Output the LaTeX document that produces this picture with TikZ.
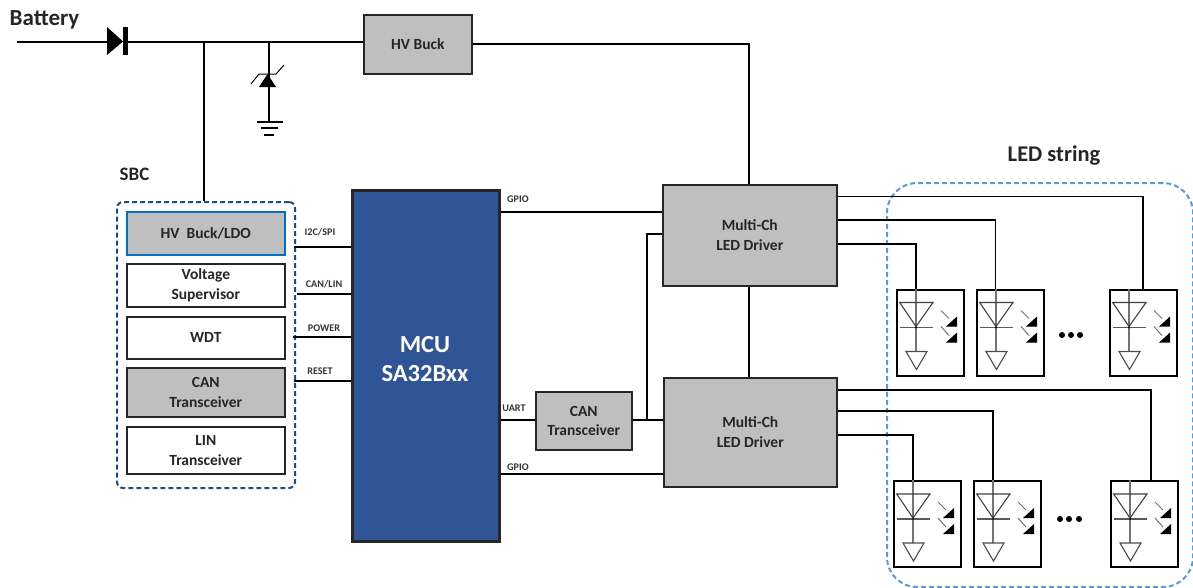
\documentclass[tikz,border=0pt]{standalone}
\usepackage{fontspec}
\setmainfont{Carlito}[Ligatures=TeX]
\definecolor{boxgray}{HTML}{BFBFBF}
\definecolor{mcublue}{HTML}{2F5597}
\definecolor{sbcblue}{HTML}{1F4E79}
\definecolor{ledblue}{HTML}{5B9BD5}
\definecolor{hvblue}{HTML}{0070C0}
\tikzset{
  x=1pt,y=-1pt,
  wire/.style={draw=black,line width=2pt},
  thinwire/.style={draw=black,line width=1.4pt},
  block/.style={draw=black!85,line width=1.6pt,anchor=north west,inner sep=0pt,align=center,font=\bfseries\fontsize{15.5}{19.5}\selectfont,text=black!85},
  graybox/.style={block,fill=boxgray},
  whitebox/.style={block,fill=white},
  siglabel/.style={font=\bfseries\fontsize{10.2}{11}\selectfont,text=black!80,inner sep=0pt},
  ledframe/.style={draw=black,line width=2pt,anchor=north west,inner sep=0pt,minimum width=67pt,minimum height=86pt},
  pics/ledcell/.style={code={
    \draw[black!55,line width=1.4pt] (20,0) -- (20,63);
    \draw[black!75,line width=1.1pt] (3.7,14) -- (37,14) -- (20,38) -- cycle;
    \draw[black!65,line width=1.1pt] (3.7,39) -- (37,39);
    \fill[black] (20,39) circle (1);
    \draw[black!70,line width=1.1pt] (10,63) -- (31,63) -- (20.5,81) -- cycle;
    \draw[black!55,line width=1pt] (45,22) -- (53,30);
    \fill[black] (50,38) -- (61,28) -- (61,38) -- cycle;
    \draw[black!55,line width=1pt] (45,38) -- (53,47);
    \fill[black] (50,54) -- (61,44) -- (61,54) -- cycle;
  }}
}
\begin{document}
\begin{tikzpicture}
\useasboundingbox (0,0) rectangle (1193,587);
% containers
\node[draw=sbcblue,line width=2pt,dash pattern=on 5pt off 3pt,rounded corners=6pt,anchor=north west,inner sep=0pt,minimum width=178pt,minimum height=286pt] (sbc) at (116,201) {};
\node[draw=ledblue,line width=2pt,dash pattern=on 5pt off 3pt,rounded corners=30pt,anchor=north west,inner sep=0pt,minimum width=306pt,minimum height=404pt] (ledstr) at (886,182) {};
\node[font=\bfseries\fontsize{19}{21}\selectfont,text=black!85,inner sep=0pt] (sbclbl) at (134.5,174) {SBC};
\node[font=\bfseries\fontsize{22.5}{24}\selectfont,text=black!85,inner sep=0pt] (ledlbl) at (1054,156) {LED string};
\node[font=\bfseries\fontsize{23}{25}\selectfont,text=black!85,inner sep=0pt] (batlbl) at (44.5,20) {Battery};
% blocks
\node[graybox,minimum width=108pt,minimum height=59pt] (hv) at (363,14) {HV Buck};
\node[graybox,draw=hvblue,minimum width=158pt,minimum height=43pt] (ldo) at (126,211) {HV\ \ Buck/LDO};
\node[whitebox,minimum width=158pt,minimum height=43pt] (vs) at (126,263) {Voltage\\Supervisor};
\node[whitebox,minimum width=158pt,minimum height=42pt] (wdt) at (126,316) {WDT};
\node[graybox,minimum width=158pt,minimum height=49pt] (can1) at (126,367) {CAN\\Transceiver};
\node[whitebox,minimum width=158pt,minimum height=47pt] (lin) at (126,426) {LIN\\Transceiver};
\node[draw=black!85,fill=mcublue,line width=3pt,anchor=north west,inner sep=0pt,minimum width=147pt,minimum height=351pt] (mcu) at (351,189) {};
\node[align=center,inner sep=0pt,text=white,font=\bfseries\fontsize{24.5}{28.5}\selectfont] (mcutxt) at (425,359) {MCU\\SA32Bxx};
\node[graybox,minimum width=174pt,minimum height=101pt] (drv1) at (662,184) {Multi-Ch\\LED Driver};
\node[graybox,minimum width=173pt,minimum height=109pt] (drv2) at (663,377) {Multi-Ch\\LED Driver};
\node[graybox,minimum width=96pt,minimum height=58pt] (can2) at (535,391) {CAN\\Transceiver};
% battery rail
\coordinate (batin) at (17,41.5);
\coordinate (dia) at (107,41.5);
\coordinate (dik) at (128,41.5);
\coordinate (jsbc) at (204,41.5);
\coordinate (jz) at (269,41.5);
\coordinate (zk) at (269,74);
\coordinate (zg) at (269,122);
\draw[wire] (batin) -- (dia);
\fill[black] (107,27) -- (123,41.5) -- (107,55) -- cycle;
\fill[black] (123,27) rectangle (128,55);
\draw[wire] (dik) -- (jsbc) -- (jz) -- (hv.west |- jz);
\draw[wire] (jsbc) -- (jsbc |- sbc.north);
\draw[thinwire] (jz) -- (zk) (zk) -- (zg);
\fill[black] (259,87) -- (276,87) -- (267.5,74) -- cycle;
\draw[black,line width=1pt] (251,84) -- (259,74) -- (276,74) -- (284,65);
\draw[black,line width=1.3pt] (257,122) -- (283,122) (261,128) -- (278,128) (264,135) -- (274,135);
% HV buck to driver
\coordinate (tdrv) at (749,44);
\draw[wire] (hv.east |- tdrv) -- (tdrv) -- (tdrv |- drv1.north);
\draw[wire] (tdrv |- drv1.south) -- (tdrv |- drv2.north);
% SBC to MCU
\draw[wire] (294,247) -- (mcu.west |- 0,247);
\draw[wire] (297,294) -- (mcu.west |- 0,294);
\draw[wire] (293,337) -- (mcu.west |- 0,337);
\draw[wire] (294,381) -- (mcu.west |- 0,381);
\node[siglabel] (l1) at (320,232) {I2C/SPI};
\node[siglabel] (l2) at (324,284) {CAN/LIN};
\node[siglabel] (l3) at (324,328) {POWER};
\node[siglabel] (l4) at (320,371) {RESET};
% MCU to right
\draw[wire] (mcu.east |- 0,211.5) -- (drv1.west |- 0,211.5);
\draw[wire] (mcu.east |- 0,420) -- (can2.west |- 0,420);
\draw[wire] (can2.east |- 0,420) -- (drv2.west |- 0,420);
\draw[wire] (647,420) -- (647,234) -- (drv1.west |- 0,234);
\draw[wire] (mcu.east |- 0,474) -- (drv2.west |- 0,474);
\node[siglabel] (l5) at (518,199) {GPIO};
\node[siglabel] (l6) at (514,408) {UART};
\node[siglabel] (l7) at (518,467) {GPIO};
% LED cells
\foreach \n/\x/\y in {a/896/288.5,b/976/288.5,c/1109/288.5,d/893/480,e/973/480,f/1110/480}{
  \node[ledframe] (led\n) at (\x,\y) {};
  \pic at (\x,\y) {ledcell};
}
\draw[thinwire] (drv1.east |- 0,196.5) -- (1143,196.5) -- (1143,288.5);
\draw[thinwire] (drv1.east |- 0,220) -- (995.5,220) -- (995.5,288.5);
\draw[thinwire] (drv1.east |- 0,244) -- (916,244) -- (916,288.5);
\draw[thinwire] (drv2.east |- 0,390) -- (1151,390) -- (1151,480);
\draw[thinwire] (drv2.east |- 0,411) -- (993,411) -- (993,480);
\draw[thinwire] (drv2.east |- 0,435) -- (913,435) -- (913,480);
\foreach \x/\y in {1062/335,1071/335,1080/335,1060/519,1069/519,1079/519}
  \fill[black] (\x,\y) circle (3);
\end{tikzpicture}
\end{document}
